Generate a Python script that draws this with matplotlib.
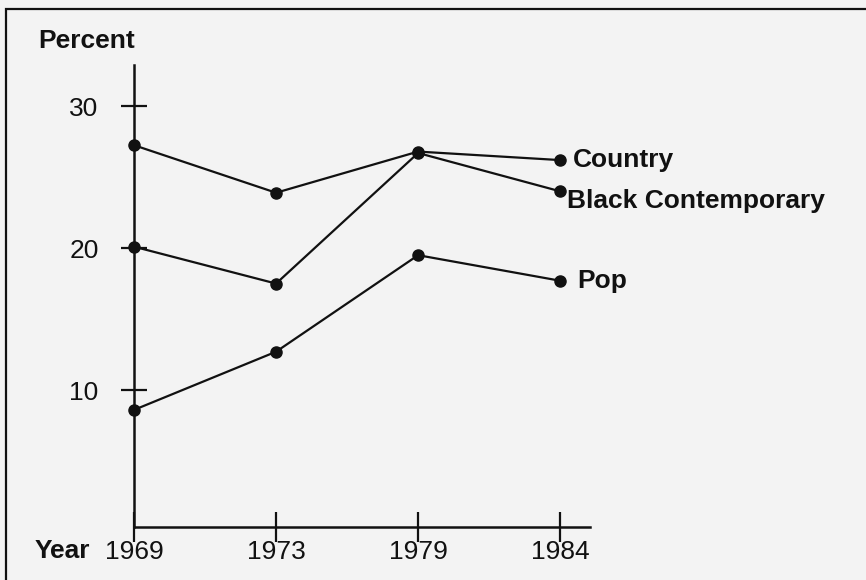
"""Share of radio listening by format, 1969-1984 -> out.png"""
import matplotlib
matplotlib.use("Agg")
import matplotlib.pyplot as plt
from matplotlib.patches import Rectangle

# ── data ─────────────────────────────────────────────────────────────────────
years = ["1969", "1973", "1979", "1984"]
country = [27.25, 23.9, 26.8, 26.2]
black_contemporary = [20.1, 17.5, 26.7, 24.0]
pop = [8.6, 12.7, 19.5, 17.7]
y_ticks = [10, 20, 30]

# ── style ────────────────────────────────────────────────────────────────────
C_BG = "#f3f3f3"
C_INK = "#111111"
plt.rcParams["font.family"] = ["Liberation Sans", "DejaVu Sans"]

W, H, DPI = 866, 580, 100
fig = plt.figure(figsize=(W / DPI, H / DPI), dpi=DPI)
fig.patch.set_facecolor(C_BG)

# axes placed in pixel terms
ax = fig.add_axes([134 / W, (H - 527) / H, 456 / W, 462 / H])
ax.set_facecolor("none")
ax.set_xlim(0, 3.21)
ax.set_ylim(0.35, 32.9)

for s in ("top", "right"):
    ax.spines[s].set_visible(False)
for s in ("left", "bottom"):
    ax.spines[s].set_linewidth(1.8)
    ax.spines[s].set_color(C_INK)

x = range(len(years))
for vals in (country, black_contemporary, pop):
    ax.plot(x, vals, color=C_INK, lw=1.6, marker="o", ms=8,
            clip_on=False, zorder=3)

ax.set_xticks(list(x))
ax.set_xticklabels(years)
ax.set_yticks(y_ticks)
ax.tick_params(axis="x", direction="inout", length=21, width=1.6,
               color=C_INK, labelsize=19, pad=-1, labelcolor=C_INK)
ax.tick_params(axis="y", direction="inout", length=19, width=1.6,
               color=C_INK, labelsize=19, pad=16, labelcolor=C_INK)

# series labels at the right end
labels = [("Country", country, (9, 0)),
          ("Black Contemporary", black_contemporary, (5, -7)),
          ("Pop", pop, (12, 0))]
for text, vals, off in labels:
    ax.annotate(text, xy=(len(years) - 1, vals[-1]), xytext=off,
                textcoords="offset points", fontsize=19,
                fontweight="bold", color=C_INK, ha="left", va="center",
                annotation_clip=False)

# axis titles
fig.text(38 / W, 1 - 48 / H, "Percent", fontsize=19, fontweight="bold",
         color=C_INK, ha="left", va="baseline")
fig.text(35 / W, 1 - 558 / H, "Year", fontsize=19, fontweight="bold",
         color=C_INK, ha="left", va="baseline")

# frame around the figure (left and top edges visible)
fig.patches.append(Rectangle((6 / W, -0.05), 1.2, 1 - 9 / H + 0.05,
                             transform=fig.transFigure, fill=False,
                             edgecolor=C_INK, lw=1.6))

fig.savefig("out.png", dpi=DPI, facecolor=C_BG)
